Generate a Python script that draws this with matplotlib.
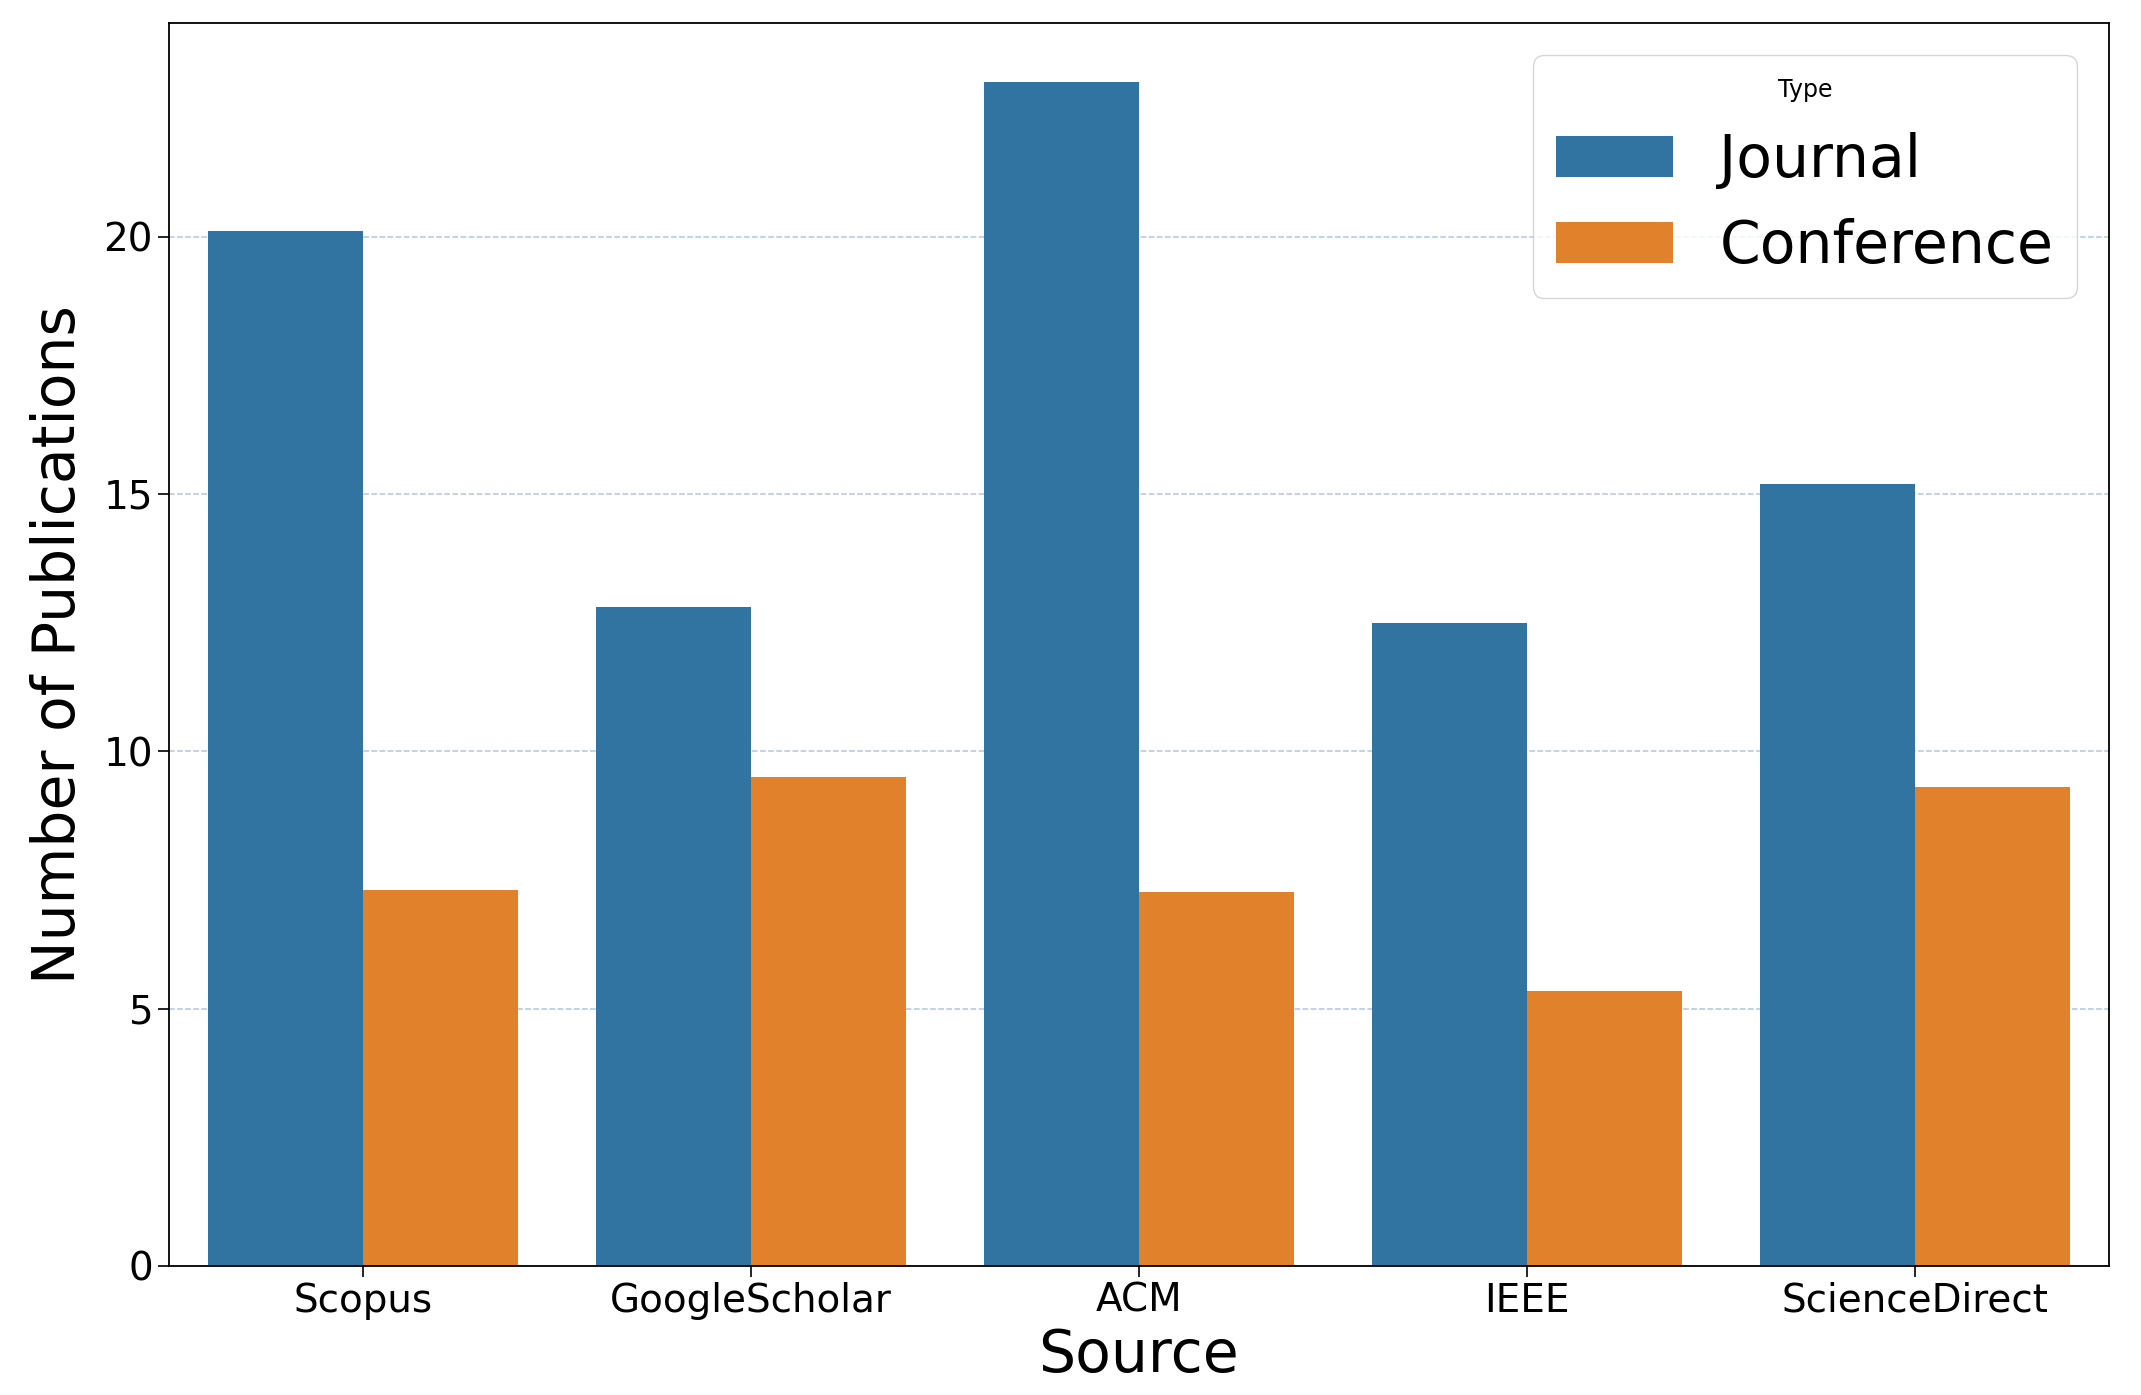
import numpy as np
import matplotlib
matplotlib.use("Agg")
import matplotlib.pyplot as plt

# ----- Data -----
sources = ["Scopus", "GoogleScholar", "ACM", "IEEE", "ScienceDirect"]
journal = [20.1, 12.8, 23.0, 12.5, 15.2]
conference = [7.3, 9.5, 7.27, 5.35, 9.3]

types = ["Journal", "Conference"]
colors = ["#3274a1", "#e1812c"]

# ----- Plot -----
fig = plt.figure(figsize=(21.41, 13.95), dpi=100)
ax = fig.add_axes([0.0789, 0.0925, 0.9061, 0.891])

x = np.arange(len(sources))
w = 0.4
ax.bar(x - w / 2, journal, width=w, color=colors[0], label=types[0], zorder=2)
ax.bar(x + w / 2, conference, width=w, color=colors[1], label=types[1], zorder=2)

ax.set_xlim(-0.5, len(sources) - 0.5)
ax.set_ylim(0, max(journal + conference) * 1.05)
ax.set_xticks(x)
ax.set_xticklabels(sources)
ax.set_yticks([0, 5, 10, 15, 20])
ax.tick_params(axis="both", labelsize=28, length=8, width=1.2)
for s in ax.spines.values():
    s.set_linewidth(1.3)

ax.set_xlabel("Source", fontsize=42, labelpad=5)
ax.set_ylabel("Number of Publications", fontsize=42, labelpad=12)

ax.set_axisbelow(True)
ax.grid(axis="y", linestyle="--", color="#a9c0de", linewidth=1.1, alpha=0.9)

leg = ax.legend(title="Type", fontsize=42, title_fontsize=17,
                loc="upper right", handlelength=2.0, borderaxespad=0.55)

fig.savefig("out.png", dpi=100)
